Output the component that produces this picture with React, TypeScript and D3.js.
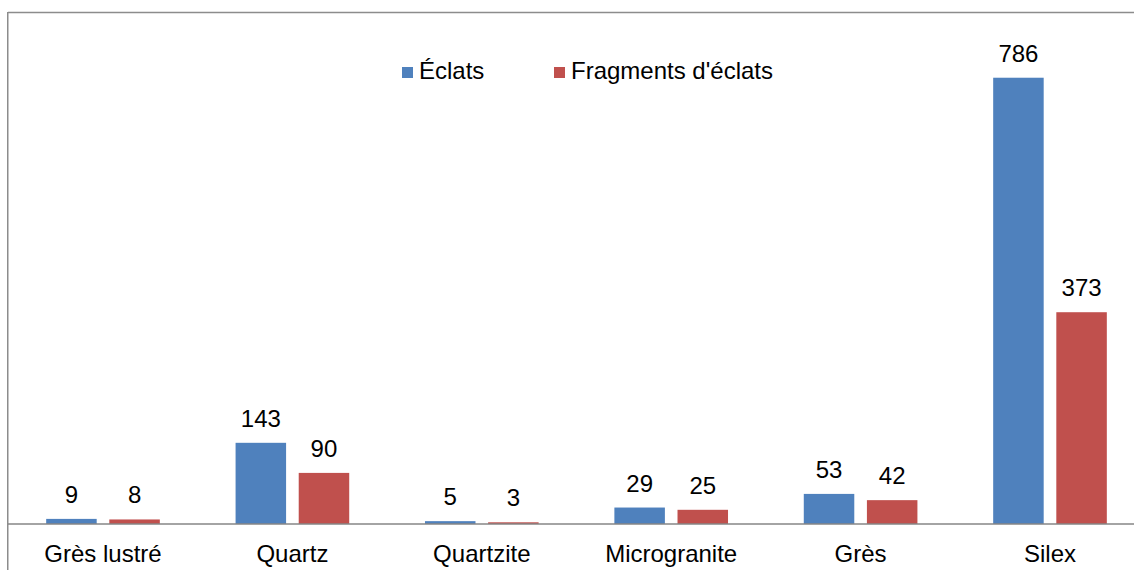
import React from "react";
import * as d3 from "d3";

const categories = ["Grès lustré", "Quartz", "Quartzite", "Microgranite", "Grès", "Silex"];
const seriesNames = ["Éclats", "Fragments d'éclats"];
const eclats = [9, 143, 5, 29, 53, 786];
const fragments = [8, 90, 3, 25, 42, 373];
const colors = ["#4F81BD", "#C0504D"];

const W = 1134;
const H = 570;
const FONT = "'Liberation Sans', Arial, sans-serif";

export default function App() {
  const baseY = 524;
  const x = d3.scaleBand<string>().domain(categories).range([8.3, 1144.7]).paddingInner(0.4).paddingOuter(0.2);
  const xi = d3.scaleBand<string>().domain(seriesNames).range([0, x.bandwidth()]).paddingInner(0.2);
  const y = d3.scaleLinear().domain([0, 900]).range([baseY, 13]);
  const series = [eclats, fragments];
  const fs = 24;

  return (
    <svg width={W} height={H} style={{ position: "absolute", left: 0, top: 0, background: "#fff" }} fontFamily={FONT}>
      <rect x={0} y={0} width={W} height={H} fill="#fff" />
      {/* frame */}
      <line x1={8} y1={12.5} x2={W} y2={12.5} stroke="#8c8c8c" strokeWidth={1.5} />
      <line x1={7.75} y1={12} x2={7.75} y2={H} stroke="#8c8c8c" strokeWidth={1.5} />
      {series.map((vals, si) =>
        vals.map((v, i) => {
          const bx = (x(categories[i]) as number) + (xi(seriesNames[si]) as number);
          const by = y(v);
          return (
            <g key={`${si}-${i}`}>
              <rect x={bx} y={by} width={xi.bandwidth()} height={baseY - by} fill={colors[si]} />
              <text x={bx + xi.bandwidth() / 2} y={by - 16} textAnchor="middle" fontSize={fs} fill="#000">
                {v}
              </text>
            </g>
          );
        })
      )}
      <line x1={8} y1={baseY} x2={W} y2={baseY} stroke="#868686" strokeWidth={1.5} />
      {categories.map((c) => (
        <text key={c} x={(x(c) as number) + x.bandwidth() / 2} y={562} textAnchor="middle" fontSize={fs} fill="#000">
          {c}
        </text>
      ))}
      {/* legend */}
      {seriesNames.map((s, i) => {
        const lx = [402, 554][i];
        return (
          <g key={s}>
            <rect x={lx} y={67} width={11} height={11} fill={colors[i]} />
            <text x={lx + 17} y={79} fontSize={fs} fill="#000">
              {s}
            </text>
          </g>
        );
      })}
    </svg>
  );
}
